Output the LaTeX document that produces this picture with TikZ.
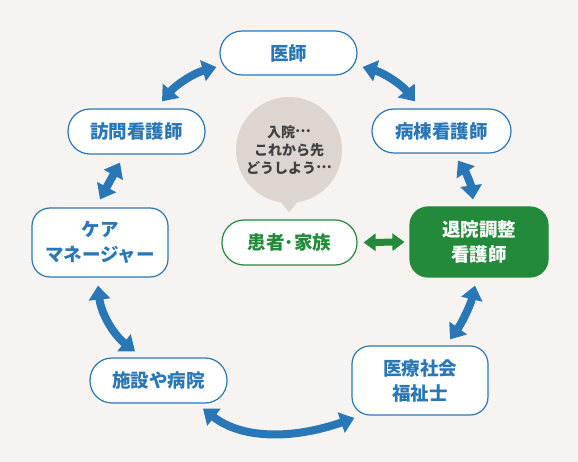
\documentclass[tikz,border=0pt]{standalone}
\usepackage{fontspec}
\setmainfont{Noto Sans CJK JP}
\usetikzlibrary{arrows.meta,calc}
\definecolor{bg}{HTML}{F6F3F0}
\definecolor{myblue}{HTML}{2977B7}
\definecolor{mygreen}{HTML}{228A3A}
\definecolor{bubblec}{HTML}{DDD5D0}
\definecolor{btext}{HTML}{404040}
\newcommand{\jpdots}{\raisebox{0.33em}{…}}
\begin{document}
\begin{tikzpicture}[x=1pt,y=-1pt,
  base/.style={draw=myblue, line width=1.2pt, fill=white, text=myblue,
    font=\fontsize{18.5}{25}\selectfont\bfseries, align=center, inner sep=0pt},
  pill/.style={base, rounded corners=22pt, minimum height=44pt, minimum width=137pt},
  rbox/.style={base, rounded corners=18pt, minimum height=69pt, minimum width=136pt},
  gbox/.style={base, draw=mygreen, fill=mygreen, text=white, rounded corners=18pt, minimum height=70pt, minimum width=138pt},
  gpill/.style={pill, draw=mygreen, text=mygreen, minimum width=135pt},
  dbl/.style={line width=8pt, draw=myblue,
    {Triangle[width=21pt,length=14pt]}-{Triangle[width=21pt,length=14pt]}},
  gdbl/.style={line width=7pt, draw=mygreen,
    {Triangle[width=17pt,length=12pt]}-{Triangle[width=17pt,length=12pt]}}
]
\fill[bg] (0,0) rectangle (578,462);
\useasboundingbox (0,0) rectangle (578,462);

% speech bubble
\node[circle, fill=bubblec, minimum size=106pt, inner sep=0pt, align=center,
  text=btext, font=\fontsize{14}{18}\selectfont\bfseries] (bubble) at (289,150)
  {入院\jpdots\\これから先\\どうしよう\jpdots};
\fill[bubblec] ($(bubble.south)+(-9,-2)$) -- ($(bubble.south)+(0,9)$) -- ($(bubble.south)+(9,-2)$) -- cycle;

% nodes
\node[pill] (ishi) at (288.5,53) {医師};
\node[pill, minimum width=139pt] (byoto) at (441.5,131) {病棟看護師};
\node[pill, minimum height=45pt] (houmon) at (136.5,131.5) {訪問看護師};
\node[rbox] (care) at (100,242.5) {ケア\\マネージャー};
\node[pill, minimum height=45pt] (shisetsu) at (158.5,380.5) {施設や病院};
\node[rbox] (msw) at (420,380.5) {医療社会\\福祉士};
\node[gbox] (taiin) at (479,242) {退院調整\\看護師};
\node[gpill, minimum height=45pt] (kanja) at (289.5,242.5) {患者･家族};

% connectors
\coordinate (a1s) at ($(houmon.north)+(25.5,-7)$);
\coordinate (a1e) at ($(ishi.west)+(-3,14)$);
\draw[dbl] (a1s) .. controls +(14.7,-17.3) and +(-22,6) .. (a1e);

\coordinate (a2s) at ($(ishi.east)+(5,14)$);
\coordinate (a2e) at ($(byoto.north)+(-26.5,-7)$);
\draw[dbl] (a2s) .. controls +(21.3,6) and +(-14,-17.3) .. (a2e);

\coordinate (a3s) at ($(byoto.south)+(16.5,7)$);
\coordinate (a3e) at ($(taiin.north)+(-6,-7)$);
\draw[dbl] (a3s) .. controls +(8,12) and +(-2,-14.7) .. (a3e);

\coordinate (a4s) at ($(taiin.south)+(-4,8)$);
\coordinate (a4e) at ($(msw.north)+(30,-6)$);
\draw[dbl] (a4s) .. controls +(-4.7,20) and +(12,-16.7) .. (a4e);

\coordinate (a5s) at ($(shisetsu.south)+(44.5,5)$);
\coordinate (a5e) at ($(msw.west)+(3,37.5)$);
\draw[dbl] (a5s) .. controls +(38,30) and +(-63.3,22) .. (a5e);

\coordinate (a6s) at ($(care.south)+(-2,8)$);
\coordinate (a6e) at ($(shisetsu.north)+(-23.5,-6)$);
\draw[dbl] (a6s) .. controls +(3,27.7) and +(-21.7,-17) .. (a6e);

\coordinate (a7s) at ($(houmon.south)+(-16.5,8)$);
\coordinate (a7e) at ($(care.north)+(0,-8)$);
\draw[dbl] (a7s) -- (a7e);

\draw[gdbl] ($(kanja.east)+(6,0)$) -- ($(taiin.west)+(-5,0)$);
\end{tikzpicture}
\end{document}
